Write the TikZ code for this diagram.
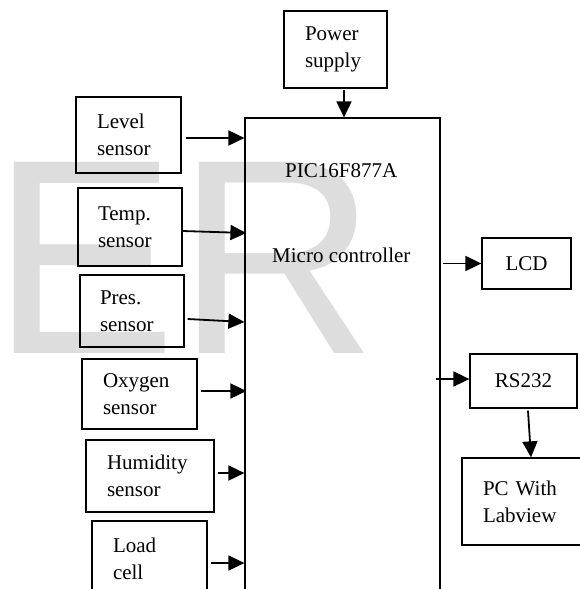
\documentclass[tikz,border=0pt]{standalone}
\usepackage{fontspec}
\setmainfont{Liberation Serif}
\newfontfamily\wmfont{Liberation Sans}
\usetikzlibrary{arrows.meta,calc}
\definecolor{wmgray}{RGB}{221,221,221}
\begin{document}
\begin{tikzpicture}[x=1pt,y=-1pt,
  box/.style={draw,line width=1.3pt,inner sep=0pt,align=left,
    font=\fontsize{21}{27}\selectfont},
  txt/.style={inner sep=0pt,font=\fontsize{21}{27}\selectfont},
  arr/.style={line width=1.8pt,-{Triangle[length=16pt,width=15pt]}}]
\useasboundingbox (0,0) rectangle (580,589);
% watermark
\node[anchor=base west,inner sep=0pt,text=wmgray,
  font=\wmfont\fontsize{278}{278}\selectfont] (wm) at (-9,353) {ER};
% main controller
\node[draw,line width=1.2pt,inner sep=0pt,minimum width=195pt,minimum height=522pt] (mcu) at (342.5,379) {};
\node[txt,anchor=base west] (pic) at (285,177) {PIC16F877A};
\node[txt,anchor=base west] (micro) at (272,262) {Micro controller};
% boxes
\node[box,minimum width=103pt,minimum height=77pt,text width=61pt] (power) at (335.5,49.5) {Power\\supply};
\node[box,minimum width=105pt,minimum height=76pt,text width=63pt] (level) at (128.5,135) {Level\\sensor};
\node[box,minimum width=104pt,minimum height=78pt,text width=64pt] (temp) at (130,227) {Temp.\\sensor};
\node[box,minimum width=104pt,minimum height=72pt,text width=64pt] (pres) at (132,311) {Pres.\\sensor};
\node[box,minimum width=115pt,minimum height=70pt,text width=73pt] (oxy) at (139.5,394) {Oxygen\\sensor};
\node[box,minimum width=128pt,minimum height=72pt,text width=86pt] (hum) at (150,476) {Humidity\\sensor};
\node[box,minimum width=115pt,minimum height=75pt,text width=73pt] (load) at (149.5,558.5) {Load\\cell};
\node[box,minimum width=89pt,minimum height=51pt,align=center] (lcd) at (526.5,263.5) {LCD};
\node[box,minimum width=107pt,minimum height=54pt,align=center] (rs) at (523.5,381) {RS232};
\node[box,minimum width=138pt,minimum height=87pt,text width=96pt] (pc) at (531,501.5) {PC With\\Labview};
% connectors
\coordinate (p0) at ($(power.south)+(8.5,1)$);
\draw[arr] (p0) -- (p0 |- mcu.north);
\coordinate (a1) at ($(level.east)+(4,3)$);
\draw[arr] (a1) -- (a1 -| mcu.west);
\coordinate (a2) at ($(temp.east)+(0,4)$);
\draw[arr] (a2) -- ($(a2 -| mcu.west)+(2,2)$);
\coordinate (a3) at ($(pres.east)+(3,8)$);
\draw[arr] (a3) -- ($(a3 -| mcu.west)+(0,3)$);
\coordinate (a4) at ($(oxy.east)+(3,-3)$);
\draw[arr] (a4) -- ($(a4 -| mcu.west)+(2,0)$);
\coordinate (a5) at ($(hum.east)+(3,-3)$);
\draw[arr] (a5) -- (a5 -| mcu.west);
\coordinate (a6) at ($(load.east)+(3,4.5)$);
\draw[arr] (a6) -- (a6 -| mcu.west);
\coordinate (b1) at ($(lcd.west -| mcu.east)+(2,0)$);
\draw[arr] (b1) -- (lcd.west);
\coordinate (b2) at ($(rs.west)+(0,-2)$);
\draw[arr] ($(b2 -| mcu.east)+(-5,0)$) -- (b2);
\coordinate (c1) at ($(rs.south)+(4.5,2)$);
\draw[arr] (c1) -- (pc.north);
\end{tikzpicture}
\end{document}
